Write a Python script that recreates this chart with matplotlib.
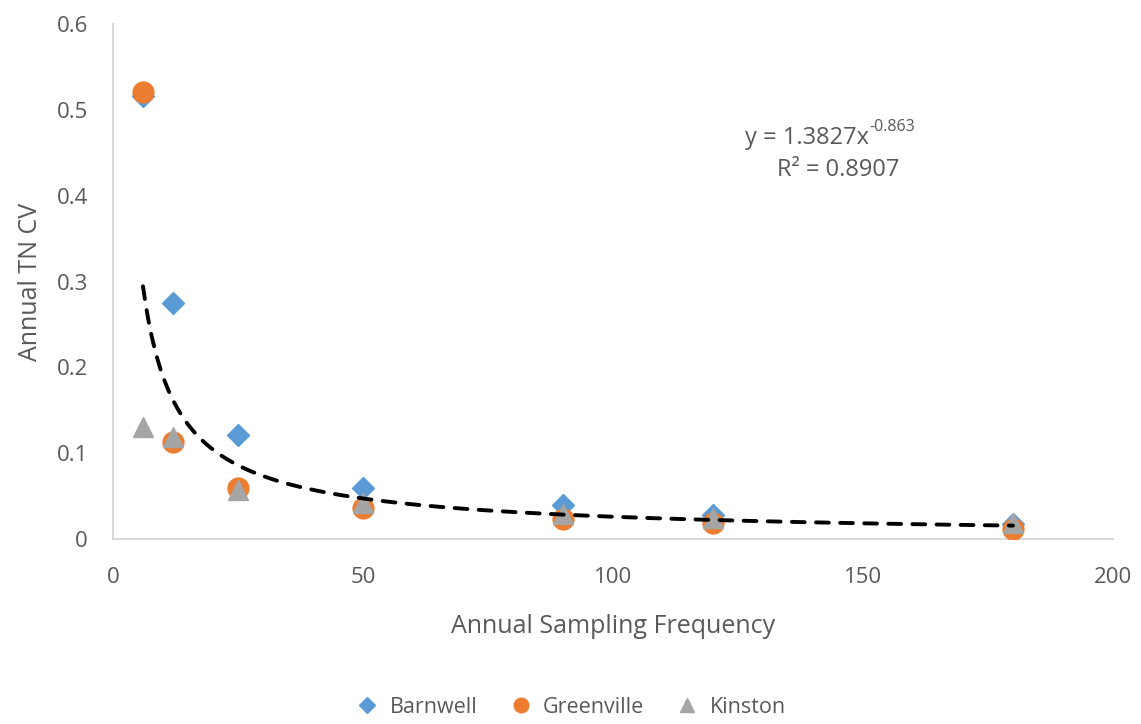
import numpy as np
import matplotlib.pyplot as plt

plt.rcParams['font.family'] = ['Open Sans', 'DejaVu Sans']

# sampling frequency per year
freq = [6, 12, 25, 50, 90, 120, 180]
barnwell = [0.516, 0.275, 0.121, 0.060, 0.040, 0.028, 0.017]
greenville = [0.521, 0.113, 0.060, 0.036, 0.023, 0.019, 0.012]
kinston = [0.131, 0.119, 0.057, 0.042, 0.029, 0.024, 0.019]

# power trendline shown on the chart
coef_a = 1.3827
coef_b = -0.863
r2 = 0.8907

grey = '#595959'

fig = plt.figure(figsize=(11.41, 7.24), dpi=100)
ax = fig.add_axes([0.099, 0.2555, 0.8765, 0.711])

ax.plot(freq, barnwell, 'D', color='#5B9BD5', markersize=11, label='Barnwell', zorder=3)
ax.plot(freq, greenville, 'o', color='#ED7D31', markersize=15, label='Greenville', zorder=4)
ax.plot(freq, kinston, '^', color='#A5A5A5', markersize=15, label='Kinston', zorder=5)

xs = np.linspace(freq[0], freq[-1], 300)
ax.plot(xs, coef_a * xs ** coef_b, '--', color='black', linewidth=2.8,
        dashes=(3.3, 2.9), dash_capstyle='round', zorder=6)

# equation: base text plus a small superscript exponent with a plain hyphen
eq = ax.text(138.8, 0.468, f'y = {coef_a}x', ha='center', va='center',
             fontsize=17, color=grey)
ax.annotate(f'{coef_b}', xy=(1, 0.62), xycoords=eq, va='bottom', ha='left',
            fontsize=11.5, color=grey)
ax.text(145, 0.43, f'R² = {r2}', ha='center', va='center', fontsize=17, color=grey)

ax.set_xlim(0, 200)
ax.set_ylim(0, 0.6)
ax.set_xticks([0, 50, 100, 150, 200])
ax.set_yticks([0, 0.1, 0.2, 0.3, 0.4, 0.5, 0.6])
ax.set_yticklabels(['0', '0.1', '0.2', '0.3', '0.4', '0.5', '0.6'])
ax.tick_params(axis='both', length=0, labelsize=16, labelcolor=grey)
ax.tick_params(axis='y', pad=18)
ax.tick_params(axis='x', pad=20)

for side in ['top', 'right']:
    ax.spines[side].set_visible(False)
for side in ['left', 'bottom']:
    ax.spines[side].set_color('#D9D9D9')
    ax.spines[side].set_linewidth(1.5)

ax.set_xlabel('Annual Sampling Frequency', fontsize=18, color=grey, labelpad=19)
ax.set_ylabel('Annual TN CV', fontsize=18, color=grey, labelpad=10)

fig.legend(loc='center', bbox_to_anchor=(0.496, 0.023), ncol=3, frameon=False,
           fontsize=15.5, labelcolor=grey, handletextpad=0.05, columnspacing=1.0,
           markerscale=0.7)

fig.savefig('out.png', dpi=100)
